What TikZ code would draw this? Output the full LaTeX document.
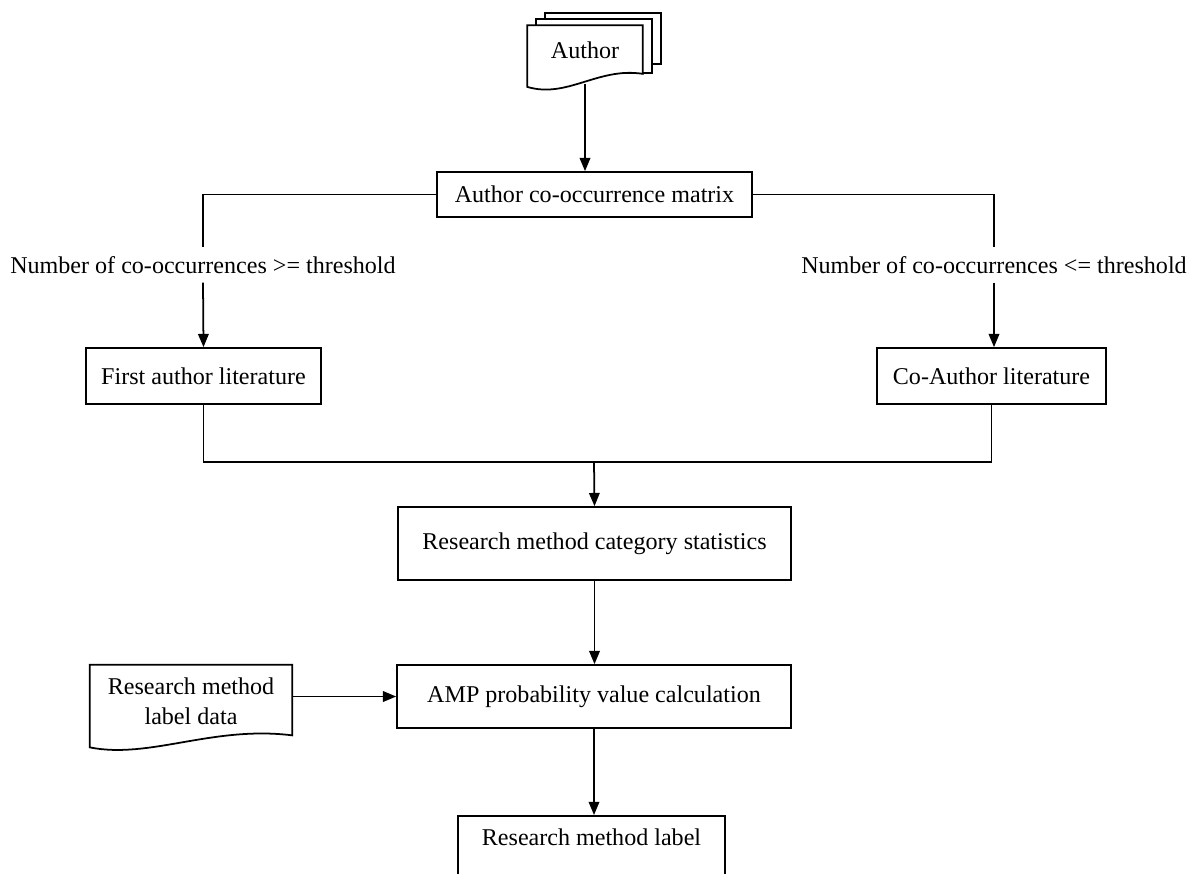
\documentclass[tikz,border=0pt]{standalone}
\usepackage{fontspec}
\setmainfont{Liberation Serif}
\usepackage{tikz}
\usetikzlibrary{arrows.meta,positioning,calc,backgrounds}

\begin{document}
\begin{tikzpicture}[
    x=0.02cm, y=-0.02cm,
    >={Triangle[length=7.5pt,width=6pt]},
    every node/.style={font=\fontsize{13.7}{17}\selectfont},
    box/.style={draw, line width=1pt, align=center, inner sep=3pt},
    lbl/.style={align=center, inner sep=5pt},
    sheet/.style={draw, line width=1pt, fill=white},
    arr/.style={->, line width=1pt},
    ln/.style={line width=1pt}
  ]
    \useasboundingbox (0,0) rectangle (1192,873);

    % document nodes (outline drawn below)
    \node[minimum width=2.3cm, minimum height=1.22cm, inner sep=0pt, text depth=0.25cm] (author) at (585,56) {Author};
    \node[minimum width=4.04cm, minimum height=1.64cm, inner sep=0pt, align=center, text depth=0.2cm] (lbldata) at (191,706) {Research method\\label data};

    \node[box, minimum width=6.3cm, minimum height=0.9cm] (matrix) at (594.5,194.5) {Author co-occurrence matrix};
    \node[lbl] (geq) at (203,265) {Number of co-occurrences >= threshold};
    \node[lbl] (leq) at (994,265) {Number of co-occurrences <= threshold};
    \node[box, minimum width=4.7cm, minimum height=1.12cm] (first) at (203.5,376) {First author literature};
    \node[box, minimum width=4.58cm, minimum height=1.12cm] (coauth) at (991.5,376) {Co-Author literature};
    \node[box, minimum width=7.86cm, minimum height=1.46cm] (stats) at (594.5,543.5) {Research method category statistics};
    \node[box, minimum width=7.88cm, minimum height=1.26cm] (amp) at (594,696.5) {AMP probability value calculation};
    \node[box, anchor=north, minimum width=5.34cm, minimum height=1.4cm, text depth=0.55cm] (label) at (591.5,815) {Research method label};

    % stacked sheets and wavy documents
    \begin{scope}[on background layer]
      \draw[sheet] ($(author.north west)+(18,-12)$) rectangle ($(author.south east)+(18,-23)$);
      \draw[sheet] ($(author.north west)+(9,-6)$) rectangle ($(author.south east)+(9,-14)$);
      \draw[sheet] (author.north west) -- (author.north east) -- ($(author.south east)+(0,-13)$)
        .. controls ($(author.south east)+(-45,-20)$) and ($(author.south west)+(40,12)$) .. (author.south west) -- cycle;
      \draw[sheet] (lbldata.north west) -- (lbldata.north east) -- ($(lbldata.south east)+(0,-12)$)
        .. controls ($(lbldata.south east)+(-80,-22)$) and ($(lbldata.south west)+(60,12)$) .. (lbldata.south west) -- cycle;
    \end{scope}

    % split by threshold
    \draw[arr] ($(author.south)+(0,-3)$) -- (author.south |- matrix.north);
    \draw[ln] (matrix.west) -| (geq.north);
    \draw[ln] (matrix.east) -| (leq.north);
    \draw[arr] (geq.south) -- (first.north);
    \draw[arr] (leq.south) -- (leq.south |- coauth.north);

    % merge
    \coordinate (merge) at (594,462);
    \draw[ln] (first.south) |- (merge) -| (coauth.south);
    \draw[arr] (merge) -- (stats.north);
    \draw[arr] (stats.south) -- (stats.south |- amp.north);
    \draw[arr] (lbldata.east |- amp.west) -- (amp.west);
    \draw[arr] (amp.south) -- (amp.south |- label.north);

  \end{tikzpicture}
\end{document}
